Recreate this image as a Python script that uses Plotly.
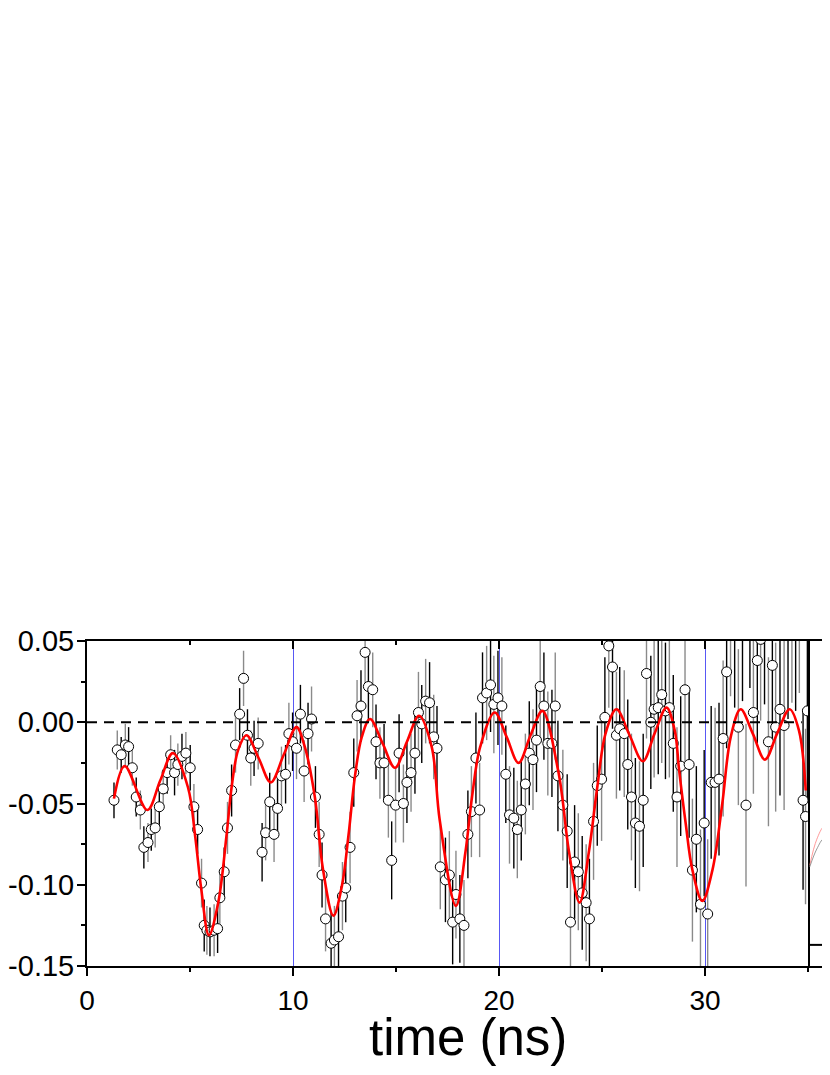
import plotly.graph_objects as go

t = [1.31, 1.47, 1.66, 1.86, 2.02, 2.20, 2.39, 2.59, 2.76, 2.96, 3.12, 3.31, 3.51, 3.70, 3.89, 4.06, 4.25, 4.41, 4.61, 4.80, 5.01, 5.19, 5.37, 5.56, 5.69, 5.82,
     5.97, 6.17, 6.34, 6.45, 6.66, 6.82, 7.02, 7.21, 7.41, 7.60, 7.79, 7.95, 8.11, 8.31, 8.50, 8.67, 8.87, 9.08, 9.25, 9.44, 9.64, 9.80, 9.98, 10.17, 10.36, 10.54, 10.73, 10.90, 11.09, 11.27, 11.41, 11.58,
     11.85, 12.01, 12.21, 12.40, 12.56, 12.77, 12.95, 13.11, 13.30, 13.50, 13.66, 13.87, 14.03, 14.22, 14.42, 14.63, 14.79, 14.98, 15.15, 15.36, 15.53, 15.73, 15.92, 16.09, 16.25, 16.44, 16.63, 16.83, 16.99, 17.15,
     17.40, 17.59, 17.75, 17.91, 18.10, 18.30, 18.49, 18.66, 18.88, 19.06, 19.20, 19.40, 19.59, 19.75, 19.95, 20.14, 20.33, 20.51, 20.72, 20.89, 21.08, 21.28, 21.47, 21.65, 21.82, 22.00, 22.18, 22.37, 22.57, 22.73, 22.86,
     23.10, 23.31, 23.47, 23.67, 23.85, 24.04, 24.23, 24.39, 24.59, 24.77, 24.98, 25.14, 25.33, 25.51, 25.70, 25.86, 26.08, 26.25, 26.43, 26.62, 26.82, 27.00, 27.16, 27.37, 27.53, 27.73, 27.90, 28.08, 28.27, 28.46, 28.64,
     28.82, 29.03, 29.23, 29.39, 29.58, 29.78, 29.96, 30.13, 30.30, 30.49, 30.68, 30.88, 31.05, 31.24, 31.44, 31.62, 31.82, 31.99, 32.18, 32.35, 32.54, 32.70, 32.89, 33.08, 33.27, 33.43, 33.64, 33.84, 34.03, 34.22, 34.40, 34.58, 34.76, 34.88, 34.97]
sig = [-0.048, -0.017, -0.020, -0.014, -0.015, -0.028, -0.046, -0.054, -0.077, -0.074, -0.066, -0.065, -0.052, -0.041, -0.031, -0.020, -0.031, -0.026, -0.021, -0.019, -0.028, -0.052, -0.066, -0.099, -0.125, -0.128,
       -0.129, -0.128, -0.127, -0.108, -0.092, -0.065, -0.042, -0.014, 0.005, 0.027, -0.008, -0.022, -0.016, -0.013, -0.080, -0.068, -0.049, -0.069, -0.053, -0.033, -0.032, -0.007, -0.012, -0.016, 0.005, -0.030, -0.007, 0.002, -0.046, -0.069, -0.094, -0.121,
       -0.136, -0.134, -0.132, -0.107, -0.102, -0.077, -0.031, 0.004, 0.010, 0.043, 0.022, 0.020, -0.012, -0.025, -0.025, -0.048, -0.085, -0.051, -0.019, -0.050, -0.037, -0.031, -0.019, 0.006, -0.001, 0.013, 0.012, -0.009, -0.016, -0.089,
       -0.097, -0.094, -0.123, -0.106, -0.121, -0.125, -0.069, -0.055, -0.022, -0.054, 0.015, 0.018, 0.023, 0.011, 0.015, 0.010, -0.032, -0.057, -0.059, -0.066, -0.054, -0.038, -0.019, -0.023, -0.011, 0.022, 0.010, -0.013, -0.013, 0.010, -0.033,
       -0.051, -0.067, -0.123, -0.086, -0.092, -0.105, -0.111, -0.121, -0.061, -0.039, -0.035, 0.003, 0.047, 0.034, -0.008, -0.004, -0.007, -0.026, -0.046, -0.062, -0.064, -0.048, 0.030, 0.000, 0.008, 0.009, 0.017, 0.007, 0.009, -0.013, -0.046,
       -0.027, 0.020, -0.026, -0.091, -0.072, -0.112, -0.062, -0.118, -0.037, -0.037, -0.035, -0.010, 0.031, 0.064, 0.058, -0.003, 0.062, -0.051, 0.070, 0.006, 0.038, 0.051, 0.062, -0.012, 0.035, -0.003, 0.008, -0.002, 0.055, 0.066, 0.060, 0.072, -0.048, -0.058, 0.007]
err = [0.011, 0.012, 0.011, 0.013, 0.012, 0.011, 0.012, 0.012, 0.013, 0.012, 0.013, 0.012, 0.013, 0.012, 0.013, 0.012, 0.014, 0.013, 0.014, 0.013, 0.014, 0.014, 0.015, 0.015, 0.016, 0.015,
       0.015, 0.016, 0.015, 0.016, 0.015, 0.016, 0.016, 0.017, 0.016, 0.017, 0.016, 0.017, 0.017, 0.016, 0.018, 0.017, 0.018, 0.017, 0.018, 0.018, 0.018, 0.019, 0.018, 0.019, 0.018, 0.019, 0.019, 0.020, 0.019, 0.020, 0.020, 0.020,
       0.020, 0.021, 0.020, 0.021, 0.021, 0.022, 0.021, 0.022, 0.022, 0.023, 0.022, 0.023, 0.023, 0.022, 0.024, 0.023, 0.024, 0.023, 0.024, 0.024, 0.025, 0.024, 0.025, 0.025, 0.024, 0.026, 0.025, 0.026, 0.026, 0.026,
       0.026, 0.027, 0.026, 0.027, 0.027, 0.028, 0.027, 0.028, 0.028, 0.029, 0.028, 0.029, 0.029, 0.030, 0.029, 0.030, 0.030, 0.030, 0.031, 0.030, 0.031, 0.031, 0.032, 0.031, 0.032, 0.032, 0.033, 0.032, 0.033, 0.033, 0.034,
       0.034, 0.035, 0.034, 0.035, 0.036, 0.035, 0.036, 0.037, 0.036, 0.037, 0.038, 0.037, 0.038, 0.038, 0.039, 0.038, 0.039, 0.040, 0.039, 0.040, 0.040, 0.041, 0.040, 0.041, 0.042, 0.041, 0.042, 0.042, 0.043, 0.042, 0.043,
       0.043, 0.044, 0.045, 0.044, 0.045, 0.046, 0.045, 0.046, 0.047, 0.046, 0.047, 0.048, 0.047, 0.048, 0.049, 0.048, 0.049, 0.050, 0.049, 0.050, 0.051, 0.050, 0.051, 0.052, 0.051, 0.052, 0.053, 0.052, 0.053, 0.054, 0.053, 0.054, 0.055, 0.054, 0.055]

# fitted curve, knots
fit_t = [1.31, 1.83, 2.93, 3.55, 4.17, 4.90, 5.25, 5.55, 5.92, 6.37, 6.77, 7.02, 7.34, 7.74, 8.33, 8.92, 9.55, 10.17, 10.57, 11.06, 11.45, 11.96,
         12.37, 12.69, 13.01, 13.34, 13.74, 14.35, 14.95, 15.53, 16.12, 16.73, 17.12, 17.91, 18.37, 18.69, 19.09, 19.79, 20.37, 20.95, 21.53, 22.11,
         22.86, 23.07, 23.39, 23.91, 24.36, 24.77, 25.17, 25.70, 26.34, 26.98, 27.55, 28.13, 28.53, 28.74, 29.06, 29.39, 29.87, 30.36, 30.84, 31.25,
         31.73, 32.32, 32.91, 33.50, 34.11, 34.56, 34.89]
fit_y = [-0.047, -0.027, -0.054, -0.036, -0.019, -0.040, -0.070, -0.103, -0.131, -0.111, -0.070, -0.040, -0.017, -0.008, -0.022, -0.037, -0.020, -0.003, -0.015, -0.046, -0.090, -0.119,
         -0.101, -0.070, -0.033, -0.009, 0.002, -0.013, -0.028, -0.012, 0.004, -0.015, -0.060, -0.113, -0.080, -0.046, -0.015, 0.006, -0.009, -0.025, -0.008, 0.007,
         -0.029, -0.046, -0.079, -0.111, -0.080, -0.040, -0.007, 0.008, -0.008, -0.024, -0.007, 0.009, -0.005, -0.029, -0.062, -0.091, -0.110, -0.091, -0.050, -0.009,
         0.008, -0.007, -0.023, -0.007, 0.008, -0.005, -0.042]

x_ticks = [0, 10, 20, 30]
y_ticks = [-0.15, -0.10, -0.05, 0.00, 0.05]
y_labels = ['-0.15', '-0.10', '-0.05', '0.00', '0.05']

# sliver of the neighbouring panel cut off at the right edge
side_x = [0.08, 0.40, 0.72, 1.0]
side_red = [-0.088, -0.072, -0.0645, -0.070]
side_gray = [-0.089, -0.078, -0.0717, -0.078]
side_level = -0.137

FONT = 'Liberation Sans, Arial, sans-serif'
# the page body adds an 8px margin, so the figure is 16px smaller than the window
split = (808 - 87) / (830 - 87)

fig = go.Figure()

# error bars, alternating black / grey
for k, col in [(0, 'black'), (1, '#8a8a8a')]:
    fig.add_trace(go.Scatter(
        x=t[k::2], y=sig[k::2], mode='markers',
        marker=dict(size=2, color='rgba(0,0,0,0)'),
        error_y=dict(type='data', array=err[k::2], color=col, thickness=1.4, width=0),
        hoverinfo='skip', showlegend=False))

fig.add_trace(go.Scatter(x=t, y=sig, mode='markers',
                         marker=dict(symbol='circle', size=10, color='white', line=dict(color='black', width=1)),
                         showlegend=False))

fig.add_trace(go.Scatter(x=fit_t, y=fit_y, mode='lines', line=dict(color='red', width=2.6, shape='spline', smoothing=1),
                         showlegend=False))

# top axis with inward ticks
fig.add_trace(go.Scatter(x=[0, 35], y=[None, None], xaxis='x3', showlegend=False, hoverinfo='skip'))

# neighbouring panel
fig.add_trace(go.Scatter(x=side_x, y=side_red, xaxis='x2', mode='lines', line=dict(color='#ff8080', width=0.8, shape='spline'), showlegend=False))
fig.add_trace(go.Scatter(x=side_x, y=side_gray, xaxis='x2', mode='lines', line=dict(color='#808080', width=0.8, shape='spline'), showlegend=False))
fig.add_trace(go.Scatter(x=[0, 1], y=[side_level, side_level], xaxis='x2', mode='lines', line=dict(color='black', width=2), showlegend=False))

fig.add_shape(type='line', x0=0, x1=34.7, y0=0, y1=0, xref='x', yref='y',
              line=dict(color='black', width=2, dash='10px,7px'))

fig.update_layout(
    width=822, height=1059,
    margin=dict(l=79, r=0, t=633, b=101, autoexpand=False),
    paper_bgcolor='white', plot_bgcolor='white',
    font=dict(family=FONT, color='black'),
    xaxis=dict(domain=[0, split], range=[0, 35], tickvals=x_ticks, ticks='outside', ticklen=8, tickwidth=1.5,
               tickcolor='black', showline=True, linecolor='black', linewidth=2, mirror=False, automargin=False,
               showgrid=True, gridcolor='#5858f4', gridwidth=1, zeroline=False,
               tickfont=dict(size=28, family=FONT),
               minor=dict(dtick=5, tick0=0, ticks='outside', ticklen=4, tickcolor='black', showgrid=False)),
    xaxis3=dict(overlaying='x', side='top', anchor='y', domain=[0, split], range=[0, 35], tickvals=x_ticks,
                ticks='inside', ticklen=8, tickwidth=1.5, tickcolor='black', showticklabels=False, automargin=False,
                showline=True, linecolor='black', linewidth=2, showgrid=False, zeroline=False,
                minor=dict(dtick=5, tick0=0, ticks='inside', ticklen=4, tickcolor='black', showgrid=False)),
    xaxis2=dict(domain=[split, 1], anchor='y', range=[0, 1], showline=True, mirror=True, linecolor='black', linewidth=2,
                showticklabels=False, ticks='', showgrid=False, zeroline=False, automargin=False),
    yaxis=dict(range=[-0.15, 0.05], tickvals=y_ticks, ticktext=y_labels, ticks='outside', ticklen=8, tickwidth=1.5,
               tickcolor='black', showline=True, linecolor='black', linewidth=2, mirror=True, automargin=False,
               showgrid=False, zeroline=False, tickfont=dict(size=29, family=FONT), ticklabelstandoff=-3,
               minor=dict(dtick=0.025, tick0=0, ticks='outside', ticklen=4, tickcolor='black', showgrid=False)),
    annotations=[dict(text='time (ns)', x=(468 - 87) / (830 - 87), y=-0.220, xref='paper', yref='paper',
                      xanchor='center', yanchor='middle', showarrow=False, font=dict(size=51, family=FONT))],
)

fig.write_html('out.html')
